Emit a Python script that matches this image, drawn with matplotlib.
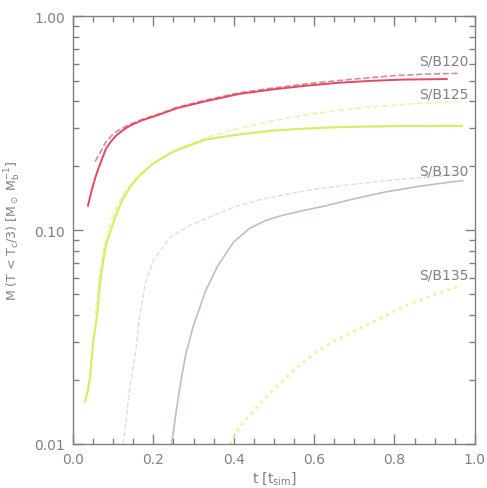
import numpy as np
import matplotlib.pyplot as plt
import matplotlib as mpl

# values (t in t_sim, M in M_sun / M_b)
t_120 = [0.037, 0.047, 0.057, 0.07, 0.082, 0.095, 0.107, 0.124, 0.141, 0.17, 0.206, 0.26, 0.33,
         0.414, 0.50, 0.58, 0.66, 0.74, 0.82, 0.93]
m_120 = [0.130, 0.155, 0.18, 0.21, 0.24, 0.26, 0.276, 0.293, 0.307, 0.325, 0.342, 0.372, 0.40,
         0.433, 0.455, 0.473, 0.488, 0.498, 0.505, 0.508]
t_120d = [0.055, 0.07, 0.082, 0.095, 0.107, 0.124, 0.141, 0.17, 0.206, 0.26, 0.33, 0.41, 0.50,
          0.60, 0.70, 0.80, 0.88, 0.96]
m_120d = [0.209, 0.235, 0.259, 0.275, 0.288, 0.30, 0.312, 0.328, 0.345, 0.375, 0.405, 0.437, 0.462,
          0.487, 0.508, 0.527, 0.536, 0.54]

t_125 = [0.03, 0.036, 0.042, 0.05, 0.06, 0.067, 0.075, 0.082, 0.092, 0.105, 0.124, 0.145, 0.166,
         0.20, 0.248, 0.33, 0.414, 0.50, 0.58, 0.66, 0.80, 0.968]
m_125 = [0.0158, 0.0175, 0.0203, 0.030, 0.040, 0.056, 0.072, 0.085, 0.097, 0.115, 0.140, 0.162, 0.18,
         0.205, 0.232, 0.265, 0.28, 0.292, 0.298, 0.303, 0.306, 0.307]
t_125d = [0.055, 0.065, 0.075, 0.09, 0.11, 0.13, 0.16, 0.20, 0.26, 0.33, 0.41, 0.50, 0.60, 0.73,
          0.85, 0.968]
m_125d = [0.040, 0.060, 0.080, 0.105, 0.13, 0.152, 0.178, 0.205, 0.24, 0.27, 0.298, 0.325, 0.35,
          0.375, 0.39, 0.40]

t_130 = [0.245, 0.25, 0.255, 0.265, 0.28, 0.30, 0.33, 0.36, 0.40, 0.44, 0.48, 0.52, 0.57, 0.63,
         0.70, 0.78, 0.86, 0.943, 0.97]
m_130 = [0.0100, 0.0115, 0.0135, 0.018, 0.026, 0.036, 0.052, 0.068, 0.088, 0.102, 0.111, 0.117, 0.123,
         0.130, 0.140, 0.151, 0.160, 0.168, 0.170]
t_130d = [0.125, 0.13, 0.14, 0.157, 0.166, 0.18, 0.20, 0.24, 0.29, 0.34, 0.40, 0.46, 0.53, 0.60,
          0.68, 0.75, 0.82, 0.90, 0.97]
m_130d = [0.0100, 0.0119, 0.0177, 0.028, 0.040, 0.056, 0.072, 0.092, 0.105, 0.115, 0.128, 0.138, 0.147,
          0.155, 0.162, 0.168, 0.173, 0.178, 0.182]

t_135 = [0.39, 0.414, 0.44, 0.49, 0.555, 0.60, 0.645, 0.69, 0.73, 0.78, 0.83, 0.90, 0.968]
m_135 = [0.0100, 0.0119, 0.0137, 0.0173, 0.0226, 0.0265, 0.030, 0.033, 0.0359, 0.040, 0.0445, 0.050, 0.055]

labels = ['S/B120', 'S/B125', 'S/B130', 'S/B135']
label_y = [0.62, 0.435, 0.19, 0.062]

mpl.rcParams['font.family'] = 'DejaVu Sans'
mpl.rcParams['mathtext.fontset'] = 'dejavusans'
grey = '#808080'

fig = plt.figure(figsize=(4.87, 4.89), dpi=100)
ax = fig.add_axes([0.150, 0.090, 0.825, 0.875])

ax.plot(t_130d, m_130d, '--', color='#dcdfe3', lw=1.0)
ax.plot(t_130, m_130, '-', color='#b8c0cc', lw=1.2)
ax.plot(t_135, m_135, ':', color='#f0f0a0', lw=2.0)
ax.plot(t_125d, m_125d, '--', color='#eef2b8', lw=1.2)
ax.plot(t_125, m_125, '-', color='#dceb6a', lw=1.6)
ax.plot(t_120d, m_120d, '--', color='#d88a98', lw=1.2)
ax.plot(t_120, m_120, '-', color='#e44862', lw=1.4)

for lab, yy in zip(labels, label_y):
    ax.text(0.985, yy, lab, ha='right', va='center', color=grey, fontsize=10)

ax.set_yscale('log')
ax.set_xlim(0, 1)
ax.set_ylim(0.01, 1.0)
ax.xaxis.set_major_locator(mpl.ticker.MultipleLocator(0.2))
ax.xaxis.set_minor_locator(mpl.ticker.MultipleLocator(0.05))
ax.xaxis.set_major_formatter(mpl.ticker.FormatStrFormatter('%.1f'))
ax.yaxis.set_major_locator(mpl.ticker.LogLocator(base=10))
ax.yaxis.set_minor_locator(mpl.ticker.LogLocator(base=10, subs=np.arange(2, 10)))
ax.yaxis.set_major_formatter(mpl.ticker.FormatStrFormatter('%.2f'))
ax.yaxis.set_minor_formatter(mpl.ticker.NullFormatter())

ax.tick_params(which='major', direction='in', length=7, width=1, top=True, right=True,
               color=grey, labelcolor=grey, labelsize=10, pad=6)
ax.tick_params(which='minor', direction='in', length=4, width=1, top=True, right=True, color=grey)
for s in ax.spines.values():
    s.set_color(grey)
    s.set_linewidth(1.0)

ax.set_xlabel(r't [t$_{\rm sim}$]', color=grey, fontsize=10, labelpad=2)
ax.set_ylabel(r'M (T < T$_{\rm c}$/3) [M$_\odot$ M$_{\rm b}^{-1}$]', color=grey, fontsize=9, labelpad=8)

plt.savefig('out.png', dpi=100)
